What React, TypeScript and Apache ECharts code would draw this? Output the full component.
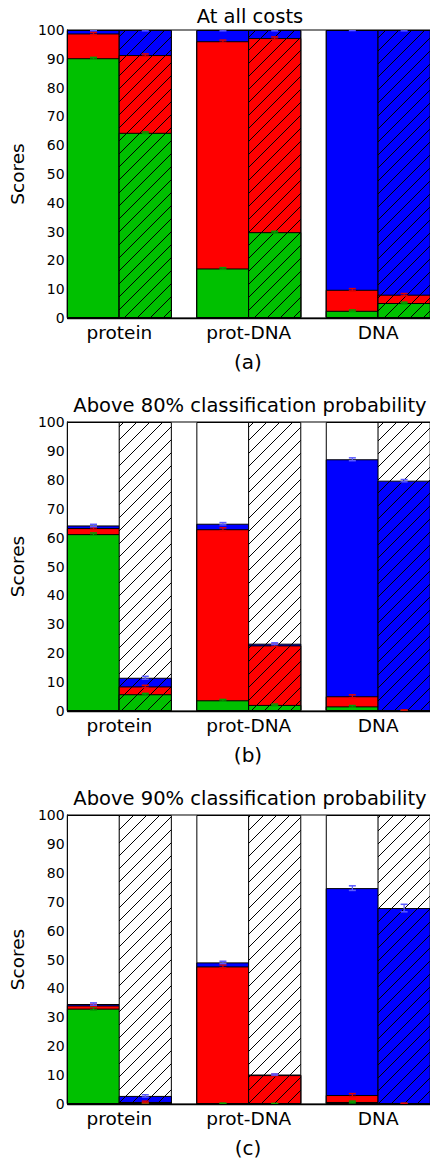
import React, { useEffect, useRef } from "react";
import * as echarts from "echarts";

// ---------- data ----------
const categories = ["protein", "prot-DNA", "DNA"];
const panelTitles = [
  "At all costs",
  "Above 80% classification probability",
  "Above 90% classification probability",
];
const panelCaptions = ["(a)", "(b)", "(c)"];
const yAxisName = "Scores";

// Segment heights (percent) per category: protein, prot-DNA, DNA
// Panel (a) - at all costs
const aSolidGreen = [90.2, 17.2, 2.5];
const aSolidRed = [8.6, 78.9, 7.3];
const aSolidBlue = [1.2, 3.9, 90.2];
const aHatchGreen = [64.3, 29.8, 5.2];
const aHatchRed = [27.0, 67.4, 2.9];
const aHatchBlue = [8.7, 2.8, 91.9];

// Panel (b) - above 80% classification probability
const bSolidGreen = [61.2, 3.7, 1.6];
const bSolidRed = [2.1, 59.2, 3.5];
const bSolidBlue = [0.9, 1.9, 82.0];
const bHatchGreen = [5.8, 2.1, 0.1];
const bHatchRed = [2.7, 20.6, 0.1];
const bHatchBlue = [3.0, 0.6, 79.5];

// Panel (c) - above 90% classification probability
const cSolidGreen = [33.0, 0.2, 0.7];
const cSolidRed = [1.1, 47.4, 2.4];
const cSolidBlue = [0.5, 1.4, 71.6];
const cHatchGreen = [0.3, 0.1, 0.1];
const cHatchRed = [0.4, 9.9, 0.1];
const cHatchBlue = [2.1, 0.2, 67.6];

// Error bar half-lengths per category: [green, red, blue]
const aSolidErr = [[0.3, 0.4, 0.2], [0.3, 0.4, 0.3], [0.3, 0.4, 0.2]];
const aHatchErr = [[0.3, 0.4, 0.3], [0.3, 0.4, 0.3], [0.3, 0.4, 0.3]];
const bSolidErr = [[0.4, 0.4, 0.4], [0.3, 0.5, 0.4], [0.3, 0.5, 0.5]];
const bHatchErr = [[0.3, 0.4, 0.5], [0.3, 0.4, 0.3], [0.1, 0.2, 0.4]];
const cSolidErr = [[0.5, 0.4, 0.4], [0.1, 0.5, 0.4], [0.3, 0.5, 0.8]];
const cHatchErr = [[0.2, 0.3, 0.4], [0.1, 0.3, 0.2], [0.1, 0.1, 1.3]];

const panels = [
  {
    solid: [aSolidGreen, aSolidRed, aSolidBlue],
    hatch: [aHatchGreen, aHatchRed, aHatchBlue],
    solidErr: aSolidErr,
    hatchErr: aHatchErr,
  },
  {
    solid: [bSolidGreen, bSolidRed, bSolidBlue],
    hatch: [bHatchGreen, bHatchRed, bHatchBlue],
    solidErr: bSolidErr,
    hatchErr: bHatchErr,
  },
  {
    solid: [cSolidGreen, cSolidRed, cSolidBlue],
    hatch: [cHatchGreen, cHatchRed, cHatchBlue],
    solidErr: cSolidErr,
    hatchErr: cHatchErr,
  },
];

// ---------- layout / style ----------
const FONT = "DejaVu Sans";
const SEG_COLORS = ["#00c000", "#ff0000", "#0000ff", "#ffffff"];
const ERR_COLORS = ["#00a000", "#e00000", "#5a5aff"];
const GROUP = 2.5; // two bars of unit width + half-unit gap
const X_MAX = categories.length * GROUP - 0.5;
const GRID_LEFT = 64;
const GRID_W = 372;
const BAR_W = GRID_W / X_MAX;
const GRID_TOPS = [30, 422, 815];
const GRID_HS = [288, 289, 289];
const TITLE_Y = [16, 405, 798];
const CAPTION_Y = [362, 755, 1148];

const solidX = categories.map((_, i) => i * GROUP + 0.5);
const hatchX = categories.map((_, i) => i * GROUP + 1.5);
const centerX = categories.map((_, i) => i * GROUP + 1);

function hatchPattern(color: string) {
  const s = 13;
  const c = document.createElement("canvas");
  c.width = s;
  c.height = s;
  const ctx = c.getContext("2d")!;
  ctx.fillStyle = color;
  ctx.fillRect(0, 0, s, s);
  ctx.strokeStyle = "#000";
  ctx.lineWidth = 1;
  ctx.beginPath();
  ctx.moveTo(0, s);
  ctx.lineTo(s, 0);
  ctx.moveTo(-1, 1);
  ctx.lineTo(1, -1);
  ctx.moveTo(s - 1, s + 1);
  ctx.lineTo(s + 1, s - 1);
  ctx.stroke();
  return { image: c.toDataURL(), repeat: "repeat", imageWidth: s, imageHeight: s };
}

function buildOption() {
  const hatchFills = SEG_COLORS.map((c) => hatchPattern(c));
  const grids: any[] = [];
  const xAxes: any[] = [];
  const yAxes: any[] = [];
  const series: any[] = [];
  const graphics: any[] = [];

  panels.forEach((pn, p) => {
    grids.push({
      left: GRID_LEFT,
      top: GRID_TOPS[p],
      width: GRID_W,
      height: GRID_HS[p],
      show: true,
      borderColor: "#000",
      borderWidth: 1,
      backgroundColor: "transparent",
    });
    xAxes.push({
      type: "value",
      gridIndex: p,
      min: 0,
      max: X_MAX,
      splitLine: { show: false },
      axisTick: { show: false },
      axisLine: { show: true, onZero: false, lineStyle: { color: "#000", width: 1.3 } },
      axisLabel: {
        customValues: centerX,
        formatter: (v: number) => {
          const i = centerX.findIndex((c) => Math.abs(c - v) < 1e-6);
          return i >= 0 ? categories[i] : "";
        },
        fontSize: 18.5,
        fontFamily: FONT,
        color: "#000",
        margin: 5,
      },
    });
    yAxes.push({
      type: "value",
      gridIndex: p,
      min: 0,
      max: 100,
      interval: 10,
      name: yAxisName,
      nameLocation: "middle",
      nameGap: 33,
      nameTextStyle: { fontSize: 18.5, fontFamily: FONT, color: "#000" },
      splitLine: { show: false },
      axisTick: { show: false },
      axisLine: { show: true, lineStyle: { color: "#000", width: 1.3 } },
      axisLabel: { fontSize: 14, fontFamily: FONT, color: "#000", margin: 3 },
    });

    (["solid", "hatch"] as const).forEach((kind) => {
      const xs = kind === "solid" ? solidX : hatchX;
      const segs = pn[kind];
      const errs = kind === "solid" ? pn.solidErr : pn.hatchErr;
      // cumulative tops: green, red, blue, then full 100 (unclassified remainder)
      const cums: number[][] = [];
      let run = categories.map(() => 0);
      segs.forEach((vals) => {
        run = run.map((r, i) => r + vals[i]);
        cums.push(run.slice());
      });
      cums.push(categories.map(() => 100));
      // draw tallest first so lower segments sit on top
      for (let k = cums.length - 1; k >= 0; k--) {
        series.push({
          type: "bar",
          xAxisIndex: p,
          yAxisIndex: p,
          barWidth: BAR_W,
          barGap: "-100%",
          silent: true,
          data: cums[k].map((v, i) => [xs[i], v]),
          itemStyle: {
            color: kind === "solid" ? SEG_COLORS[k] : hatchFills[k],
            borderColor: "#000",
            borderWidth: 1,
          },
        });
      }
      const errData: any[] = [];
      for (let k = 0; k < segs.length; k++) {
        categories.forEach((_, i) => {
          errData.push([xs[i], cums[k][i], errs[i][k], k]);
        });
      }
      series.push({
        type: "custom",
        xAxisIndex: p,
        yAxisIndex: p,
        z: 5,
        silent: true,
        clip: true,
        data: errData,
        renderItem: (_params: any, api: any) => {
          const x = api.value(0);
          const y = api.value(1);
          const e = api.value(2);
          const stroke = ERR_COLORS[api.value(3)];
          const t = api.coord([x, Math.min(100, y + e)]);
          const b = api.coord([x, Math.max(0, y - e)]);
          const hw = 3.5;
          const children: any[] = [
            { type: "line", shape: { x1: t[0], y1: t[1], x2: b[0], y2: b[1] }, style: { stroke, lineWidth: 1.2 } },
          ];
          if (y + e <= 100) {
            children.push({ type: "line", shape: { x1: t[0] - hw, y1: t[1], x2: t[0] + hw, y2: t[1] }, style: { stroke, lineWidth: 1.5 } });
          }
          if (y - e >= 0) {
            children.push({ type: "line", shape: { x1: b[0] - hw, y1: b[1], x2: b[0] + hw, y2: b[1] }, style: { stroke, lineWidth: 1.5 } });
          }
          return { type: "group", children };
        },
      });
    });

    graphics.push({
      type: "text",
      x: GRID_LEFT + GRID_W / 2,
      y: TITLE_Y[p],
      style: {
        text: panelTitles[p],
        font: `19.5px '${FONT}'`,
        fill: "#000",
        align: "center",
        verticalAlign: "middle",
      },
    });
    graphics.push({
      type: "text",
      x: 248,
      y: CAPTION_Y[p],
      style: {
        text: panelCaptions[p],
        font: `20px '${FONT}'`,
        fill: "#000",
        align: "center",
        verticalAlign: "middle",
      },
    });
  });

  return {
    animation: false,
    backgroundColor: "#fff",
    textStyle: { fontFamily: FONT },
    grid: grids,
    xAxis: xAxes,
    yAxis: yAxes,
    series,
    graphic: graphics,
  };
}

export default function App() {
  const ref = useRef<HTMLDivElement>(null);
  useEffect(() => {
    if (!ref.current) return;
    const chart = echarts.init(ref.current, null, { renderer: "svg" });
    chart.setOption(buildOption() as any);
    return () => chart.dispose();
  }, []);
  return (
    <div
      ref={ref}
      style={{ position: "absolute", left: 0, top: 0, width: 430, height: 1164 }}
    />
  );
}
